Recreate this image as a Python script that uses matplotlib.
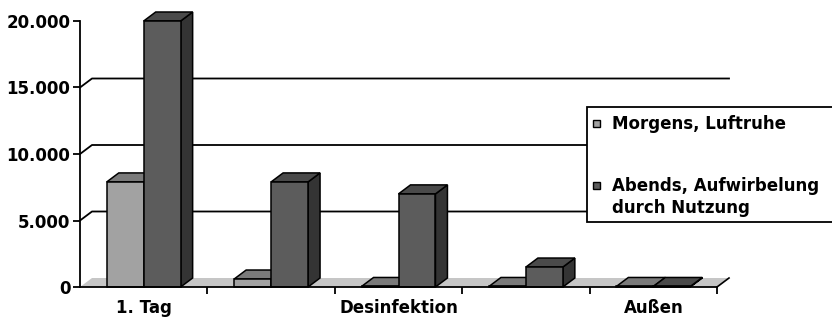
import matplotlib.pyplot as plt
from matplotlib.patches import Polygon, Rectangle

plt.rcParams['font.family'] = ['DejaVu Sans']

# categories (only every other one is labelled on the axis)
categories = ['1. Tag', '', 'Desinfektion', '', 'Außen']
morgens = [7900, 600, 40, 40, 40]
abends = [20000, 7900, 7000, 1500, 40]
series_names = ['Morgens, Luftruhe', 'Abends, Aufwirbelung\ndurch Nutzung']
yticks = [0, 5000, 10000, 15000, 20000]
ytick_labels = ['0', '5.000', '10.000', '15.000', '20.000']

# colours: front, top, side
col_m = ('#a2a2a2', '#7a7a7a', '#6a6a6a')
col_a = ('#5c5c5c', '#4a4a4a', '#343434')

W, H = 832, 322
fig = plt.figure(figsize=(W / 100, H / 100), dpi=100)
ax = fig.add_axes([80 / W, 35 / H, 637 / W, 266 / H])
n = len(categories)
ax.set_xlim(0, n)
ax.set_ylim(0, 20000)

# 3d depth offset (12 px right, 9 px up) in data units
dx = 12 / 637 * n
dy = 9 / 266 * 20000

# floor
ax.add_patch(Polygon([(0, 0), (n, 0), (n + dx, dy), (dx, dy)], closed=True,
                     facecolor='#c6c6c6', edgecolor='none', clip_on=False, zorder=1))
ax.plot([n, n + dx], [0, dy], color='black', lw=1.2, clip_on=False, zorder=2)

# back wall gridlines with slanted connectors
for v in yticks[1:-1]:
    ax.plot([0, dx, n + dx], [v, v + dy, v + dy], color='black', lw=1.3,
            clip_on=False, zorder=1)


def bar3d(x0, w, h, cols, z):
    front, top, side = cols
    kw = dict(closed=True, edgecolor='black', lw=1.1, clip_on=False,
              joinstyle='miter', zorder=z)
    ax.add_patch(Polygon([(x0 + w, 0), (x0 + w + dx, dy), (x0 + w + dx, h + dy),
                          (x0 + w, h)], facecolor=side, **kw))
    ax.add_patch(Polygon([(x0, h), (x0 + w, h), (x0 + w + dx, h + dy),
                          (x0 + dx, h + dy)], facecolor=top, **kw))
    ax.add_patch(Polygon([(x0, 0), (x0 + w, 0), (x0 + w, h), (x0, h)],
                         facecolor=front, **kw))


bw = 0.29
z = 3
for i in range(n):
    bar3d(i + 0.5 - bw, bw, morgens[i], col_m, z)
    bar3d(i + 0.5, bw, abends[i], col_a, z + 1)
    z += 2

# axes and ticks
for s in ['top', 'right']:
    ax.spines[s].set_visible(False)
ax.spines['left'].set_linewidth(1.3)
ax.spines['bottom'].set_linewidth(1.3)
ax.spines['left'].set_zorder(20)
ax.spines['bottom'].set_zorder(20)
ax.set_yticks(yticks)
ax.set_yticklabels(ytick_labels, fontsize=12, fontweight='bold')
ax.set_xticks(range(1, n + 1))
ax.set_xticklabels([])
ax.tick_params(axis='both', length=5, width=1.3, direction='out')
ax.tick_params(axis='y', pad=2)
for i, c in enumerate(categories):
    if c:
        ax.text(i + 0.5, -900, c, ha='center', va='top', fontsize=12,
                fontweight='bold')

# legend box
fig.patches.append(Rectangle((587 / W, 1 - 222 / H), 260 / W, 115 / H,
                             transform=fig.transFigure, facecolor='white',
                             edgecolor='black', lw=1.3, zorder=30))
legend_y = [123, 185]
for name, cols, yy in zip(series_names, [col_m, col_a], legend_y):
    fig.patches.append(Rectangle((593 / W, 1 - (yy + 4) / H), 7 / W, 7 / H,
                                 transform=fig.transFigure, facecolor=cols[0],
                                 edgecolor='black', lw=1, zorder=31))
    fig.text(612 / W, 1 - (yy - 8) / H, name, ha='left', va='top',
             fontsize=12, fontweight='bold', linespacing=1.3, zorder=32)

fig.savefig('out.png', dpi=100)
